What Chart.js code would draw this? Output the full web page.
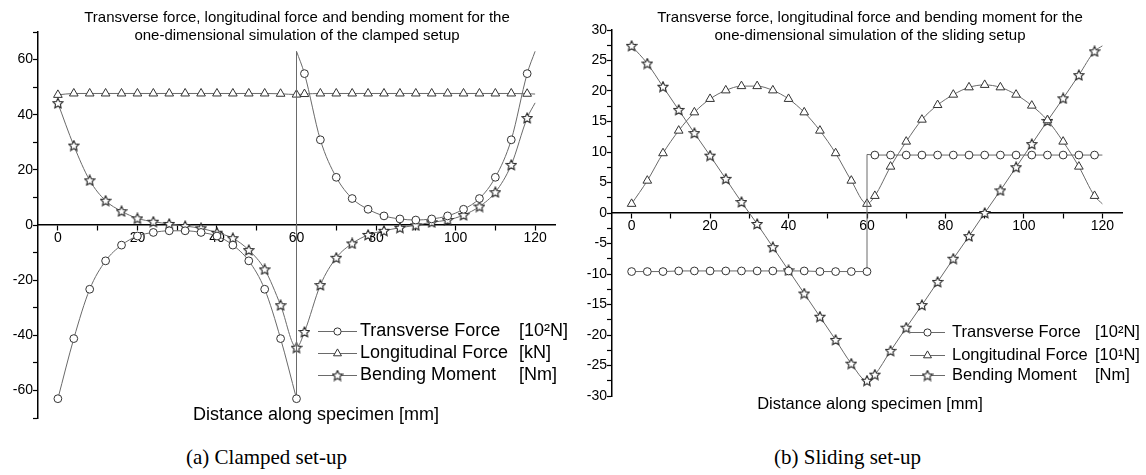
<!DOCTYPE html>
<html lang="en">
<head>
<meta charset="UTF-8" />
<title>Transverse force, longitudinal force and bending moment</title>
<script src="https://cdn.jsdelivr.net/npm/chart.js"></script>
<style>
  body {margin:0; background:#fff;}
  #wrap {position:relative; width:1146px; height:475px;}
  canvas {position:absolute; top:0;}
  #left {left:0;}
  #right {left:570px;}
  .cap {position:absolute; top:445px; line-height:24px; font-family:"Liberation Serif","Times New Roman",serif; font-size:21px; color:#000;}
</style>
</head>
<body>
<div id="wrap">
  <canvas id="left" width="570" height="440"></canvas>
  <canvas id="right" width="576" height="440"></canvas>
  <div class="cap" style="left:186px">(a) Clamped set-up</div>
  <div class="cap" style="left:774px">(b) Sliding set-up</div>
</div>
<script>
// ---- data ----
const seriesNames = ['Transverse Force', 'Longitudinal Force', 'Bending Moment'];
const clampUnits = ['[10\u00b2N]', '[kN]', '[Nm]'];
const slideUnits = ['[10\u00b2N]', '[10\u00b9N]', '[Nm]'];

const xTicks = [0, 10, 20, 30, 40, 50, 60, 70, 80, 90, 100, 110, 120];
const clampYTicks = [-70, -60, -50, -40, -30, -20, -10, 0, 10, 20, 30, 40, 50, 60, 70];
const slideYTicks = [-30, -27.5, -25, -22.5, -20, -17.5, -15, -12.5, -10, -7.5, -5, -2.5, 0,
                     2.5, 5, 7.5, 10, 12.5, 15, 17.5, 20, 22.5, 25, 27.5, 30];

// clamped set-up
const clampX = [0, 4, 8, 12, 16, 20, 24, 28, 32, 36, 40, 44, 48, 52, 56, 60,
                62, 66, 70, 74, 78, 82, 86, 90, 94, 98, 102, 106, 110, 114, 118, 120];
const clampTransLeftX = [0, 4, 8, 12, 16, 20, 24, 28, 32, 36, 40, 44, 48, 52, 56, 60];
const clampTransLeft = [-63, -41.2, -23.3, -13.0, -7.3, -4.0, -2.7, -2.1, -2.1, -2.7, -4.0, -7.3, -13.0, -23.3, -41.2, -63];
const clampTransRightX = [60, 62, 66, 70, 74, 78, 82, 86, 90, 94, 98, 102, 106, 110, 114, 118, 120];
const clampTransRight = [63, 54.9, 30.9, 17.3, 9.6, 5.7, 3.3, 2.2, 1.8, 2.2, 3.3, 5.7, 9.6, 17.3, 30.9, 54.9, 63];
const clampJumpX = [60, 60];
const clampJump = [-63, 63];
const clampLong = [47.2, 47.7, 47.7, 47.7, 47.7, 47.7, 47.7, 47.7, 47.7, 47.7, 47.7, 47.7, 47.7, 47.7, 47.6, 47.3,
                   47.5, 47.7, 47.7, 47.7, 47.7, 47.7, 47.7, 47.7, 47.7, 47.7, 47.7, 47.7, 47.7, 47.7, 47.6, 47.5];
const clampBend = [44.2, 28.8, 16.2, 8.8, 5.0, 2.4, 1.2, 0.4, -0.4, -1.2, -2.8, -4.8, -9.1, -16.1, -29.1, -44.5,
                   -38.8, -21.8, -11.9, -6.7, -3.6, -2.1, -1.0, -0.1, 1.0, 1.8, 3.6, 6.7, 11.9, 21.8, 38.8, 44.3];

// sliding set-up
const slideX = clampX;
const slideTransX = [0, 4, 8, 12, 16, 20, 24, 28, 32, 36, 40, 44, 48, 52, 56, 60,
                     60, 62, 66, 70, 74, 78, 82, 86, 90, 94, 98, 102, 106, 110, 114, 118, 120];
const slideTrans = [-9.6, -9.6, -9.6, -9.5, -9.5, -9.5, -9.5, -9.5, -9.5, -9.5, -9.5, -9.5, -9.6, -9.6, -9.6, -9.6,
                    9.6, 9.5, 9.5, 9.5, 9.5, 9.5, 9.5, 9.5, 9.5, 9.5, 9.5, 9.5, 9.5, 9.5, 9.5, 9.5, 9.5];
const slideLong = [1.5, 5.3, 9.8, 13.5, 16.5, 18.7, 20.1, 20.8, 20.8, 20.1, 18.7, 16.5, 13.5, 9.8, 5.3, 1.5,
                   2.8, 7.6, 11.7, 15.3, 17.7, 19.4, 20.6, 21.0, 20.6, 19.4, 17.6, 15.2, 11.7, 7.6, 2.8, 1.5];
const slideBend = [27.4, 24.5, 20.7, 16.9, 13.1, 9.4, 5.6, 1.8, -1.8, -5.6, -9.4, -13.2, -17.0, -20.8, -24.7, -27.5,
                   -26.5, -22.6, -18.8, -15.1, -11.3, -7.5, -3.8, 0, 3.7, 7.5, 11.3, 15.1, 18.8, 22.6, 26.5, 27.4];

// ---- styling ----
const FONT = '"Liberation Sans", Arial, sans-serif';
const lineColor = '#6a6a6a';
const markColor = '#333';

function makeStar(size) {
  const c = document.createElement('canvas');
  c.width = c.height = size;
  const g = c.getContext('2d');
  const cx = size / 2, cy = size / 2 + 0.4, R = size / 2 - 0.7, r = R * 0.48;
  g.beginPath();
  for (let i = 0; i < 10; i++) {
    const a = -Math.PI / 2 + i * Math.PI / 5;
    const rr = i % 2 ? r : R;
    g.lineTo(cx + rr * Math.cos(a), cy + rr * Math.sin(a));
  }
  g.closePath();
  g.fillStyle = '#fff'; g.fill();
  g.strokeStyle = '#222'; g.lineWidth = 1.1; g.stroke();
  return c;
}
const star = makeStar(12);
const styles = ['circle', 'triangle', star];
const radii = [3.9, 5, 4];

function series(xs, ys, k, hide, opts) {
  return Object.assign({
    data: xs.map((x, i) => ({x: x, y: ys[i]})),
    borderColor: lineColor, borderWidth: 1, fill: false,
    pointStyle: styles[k],
    pointRadius: xs.map((x, i) => hide.includes(i) ? 0 : radii[k]),
    pointBackgroundColor: '#fff', pointBorderColor: markColor, pointBorderWidth: 1,
    cubicInterpolationMode: 'monotone'
  }, opts || {});
}

function drawMarker(ctx, k, x, y) {
  ctx.save();
  ctx.fillStyle = '#fff'; ctx.strokeStyle = markColor; ctx.lineWidth = 1;
  if (k === 0) {
    ctx.beginPath(); ctx.arc(x, y, 3.6, 0, Math.PI * 2); ctx.fill(); ctx.stroke();
  } else if (k === 1) {
    const r = 4.6;
    ctx.beginPath();
    for (let i = 0; i < 3; i++) {
      const a = i * 2 * Math.PI / 3;
      ctx.lineTo(x + Math.sin(a) * r, y - Math.cos(a) * r);
    }
    ctx.closePath(); ctx.fill(); ctx.stroke();
  } else {
    ctx.drawImage(star, x - star.width / 2, y - star.height / 2);
  }
  ctx.restore();
}

// titles, axis title and legend drawn on top
const decor = {
  id: 'decor',
  afterDraw(chart, args, o) {
    const ctx = chart.ctx;
    ctx.save();
    ctx.fillStyle = '#000';
    ctx.textBaseline = 'middle';
    ctx.textAlign = 'center';
    ctx.font = '15px ' + FONT;
    o.title.forEach((t, i) => ctx.fillText(t, o.titleX, o.titleY[i]));
    ctx.font = o.xTitleSize + 'px ' + FONT;
    ctx.fillText('Distance along specimen [mm]', o.xTitleX, o.xTitleY);
    ctx.textAlign = 'left';
    ctx.font = o.legendSize + 'px ' + FONT;
    seriesNames.forEach((name, i) => {
      const y = o.legendY[i];
      ctx.strokeStyle = lineColor; ctx.lineWidth = 1;
      ctx.beginPath(); ctx.moveTo(o.lineX[0], y + 0.5); ctx.lineTo(o.lineX[1], y + 0.5); ctx.stroke();
      drawMarker(ctx, i, (o.lineX[0] + o.lineX[1]) / 2, y + 0.5);
      ctx.fillStyle = '#000';
      ctx.fillText(name, o.textX, y);
      ctx.fillText(o.units[i], o.unitX, y);
    });
    ctx.restore();
  }
};

function makeChart(id, datasets, yTicks, yLabelStep, area, decorOpts) {
  const tickFont = {family: FONT, size: 14};
  return new Chart(document.getElementById(id), {
    type: 'line',
    data: {datasets: datasets},
    options: {
      responsive: false, animation: false, events: [],
      layout: {padding: area.padding},
      scales: {
        x: {
          type: 'linear', min: -5, max: 125, position: {y: 0},
          afterBuildTicks: s => { s.ticks = xTicks.map(v => ({value: v})); },
          grid: {drawOnChartArea: false, tickLength: 5, tickColor: '#000', tickWidth: 1.2},
          border: {color: '#000', width: 1.5},
          ticks: {font: tickFont, color: '#000', padding: 0, autoSkip: false, maxRotation: 0,
                  callback: v => (v % 20 === 0 ? String(v) : '')}
        },
        y: {
          type: 'linear', min: yTicks[0], max: yTicks[yTicks.length - 1], position: 'left',
          afterFit: s => { s.width = area.yWidth; },
          afterBuildTicks: s => { s.ticks = yTicks.map(v => ({value: v})); },
          grid: {drawOnChartArea: false, tickLength: 5, tickColor: '#000', tickWidth: 1.2},
          border: {color: '#000', width: 1.5},
          ticks: {font: tickFont, color: '#000', padding: 0, autoSkip: false,
                  callback: v => (v % yLabelStep === 0 ? String(v) : '')}
        }
      },
      plugins: {legend: {display: false}, tooltip: {enabled: false}, decor: decorOpts}
    },
    plugins: [decor]
  });
}

makeChart('left', [
  series(clampTransLeftX, clampTransLeft, 0, []),
  series(clampJumpX, clampJump, 0, [0, 1], {cubicInterpolationMode: 'default', tension: 0}),
  series(clampTransRightX, clampTransRight, 0, [0, 16]),
  series(clampX, clampLong, 1, [31]),
  series(clampX, clampBend, 2, [31])
], clampYTicks, 20,
  {padding: {left: 0, right: 15, top: 32, bottom: 22}, yWidth: 38},
  {title: ['Transverse force, longitudinal force and bending moment for the',
           'one-dimensional simulation of the clamped setup'],
   titleX: 297, titleY: [18, 36], xTitleSize: 18, xTitleX: 316, xTitleY: 415,
   legendSize: 18, lineX: [318, 357], textX: 360, unitX: 519, legendY: [331, 353, 375], units: clampUnits});

makeChart('right', [
  series(slideTransX, slideTrans, 0, [16, 32], {cubicInterpolationMode: 'default', tension: 0}),
  series(slideX, slideLong, 1, [31]),
  series(slideX, slideBend, 2, [31])
], slideYTicks, 5,
  {padding: {left: 0, right: 24, top: 30, bottom: 44}, yWidth: 42},
  {title: ['Transverse force, longitudinal force and bending moment for the',
           'one-dimensional simulation of the sliding setup'],
   titleX: 300, titleY: [18, 36], xTitleSize: 16.5, xTitleX: 300, xTitleY: 404,
   legendSize: 16.5, lineX: [340, 375], textX: 382, unitX: 525, legendY: [332, 355, 375], units: slideUnits});
</script>
</body>
</html>
